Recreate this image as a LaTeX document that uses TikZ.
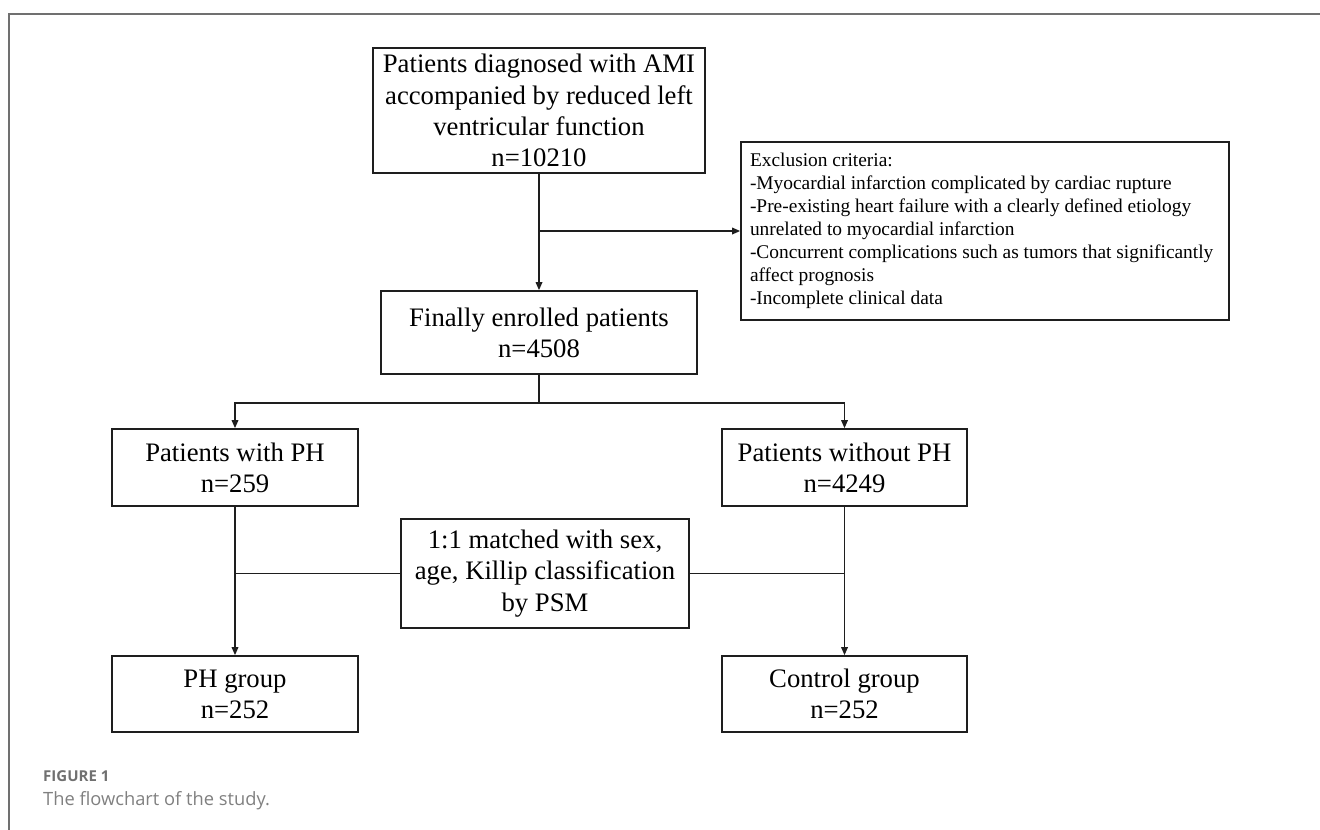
\documentclass[tikz,border=0pt]{standalone}
\usepackage{fontspec}
\setmainfont{Liberation Serif}
\newfontfamily\capfont{Open Sans}
\usetikzlibrary{arrows.meta,calc}
\definecolor{framegrey}{HTML}{707070}
\definecolor{capgrey}{HTML}{808080}
\definecolor{figgrey}{HTML}{707070}
\definecolor{ink}{HTML}{1E1E1E}
\tikzset{
  box/.style={draw=ink, line width=1.6pt, align=center, inner sep=0pt,
    font=\fontsize{26.7}{31.2}\selectfont, text=black},
  exbox/.style={draw=ink, line width=1.6pt, align=left, inner sep=0pt,
    font=\fontsize{19.4}{23}\selectfont, text=black},
  conn/.style={draw=ink, line width=1.6pt},
  arr/.style={conn, -{Triangle[length=8pt,width=6.5pt]}},
  frameline/.style={draw=framegrey, line width=1.5pt},
}
\begin{document}
\begin{tikzpicture}[x=1pt,y=-1pt]
\useasboundingbox (0,0) rectangle (1320,830);
% frame
\coordinate (f0) at (9,830);
\coordinate (f1) at (9,14);
\coordinate (f2) at (1320,14);
\draw[frameline] (f0) -- (f1) -- (f2);

% boxes
\node[box, minimum width=332pt, minimum height=125pt] (top) at (539,110.5)
  {Patients diagnosed with AMI\\accompanied by reduced left\\ventricular function\\n=10210};
\node[exbox, minimum width=488pt, minimum height=178pt] (excl) at (985,231)
  {\begin{minipage}{470pt}
  Exclusion criteria:\\
  -Myocardial infarction complicated by cardiac rupture\\
  -Pre-existing heart failure with a clearly defined etiology\\
  unrelated to myocardial infarction\\
  -Concurrent complications such as tumors that significantly\\
  affect prognosis\\
  -Incomplete clinical data
  \end{minipage}};
\node[box, minimum width=316pt, minimum height=83pt] (fin) at (539,332.5)
  {Finally enrolled patients\\n=4508};
\node[box, minimum width=246pt, minimum height=77pt] (ph) at (235,467.5)
  {Patients with PH\\n=259};
\node[box, minimum width=245pt, minimum height=77pt] (noph) at (844.5,467.5)
  {Patients without PH\\n=4249};
\node[box, minimum width=288pt, minimum height=109pt] (match) at (545,573.5)
  {1:1 matched with sex,\\age, Killip classification\\by PSM};
\node[box, minimum width=246pt, minimum height=76pt] (phg) at (235,694)
  {PH group\\n=252};
\node[box, minimum width=245pt, minimum height=76pt] (ctrl) at (844.5,694)
  {Control group\\n=252};

% connectors
\draw[arr] (top.south) -- (fin.north);
\coordinate (exj) at (top.south |- excl.west);
\draw[arr] (exj) -- (excl.west);
\coordinate (split) at ($(fin.south)+(0,28)$);
\draw[conn] (fin.south) -- (split);
\draw[arr] (split) -| (ph.north);
\draw[arr] (split) -| (noph.north);
\draw[arr] (ph.south) -- (phg.north);
\draw[arr] (noph.south) -- (ctrl.north);
\coordinate (mjl) at (ph.south |- match.west);
\coordinate (mjr) at (noph.south |- match.east);
\draw[conn] (match.west) -- (mjl);
\draw[conn] (match.east) -- (mjr);

% caption
\node[anchor=base west, inner sep=0pt, text=figgrey, font=\capfont\bfseries\fontsize{15}{18}\selectfont] (figlab) at (43,781) {FIGURE 1};
\node[anchor=base west, inner sep=0pt, text=capgrey, font=\capfont\fontsize{18.3}{22}\selectfont] (caption) at (43,805) {The flowchart of the study.};
\end{tikzpicture}
\end{document}
